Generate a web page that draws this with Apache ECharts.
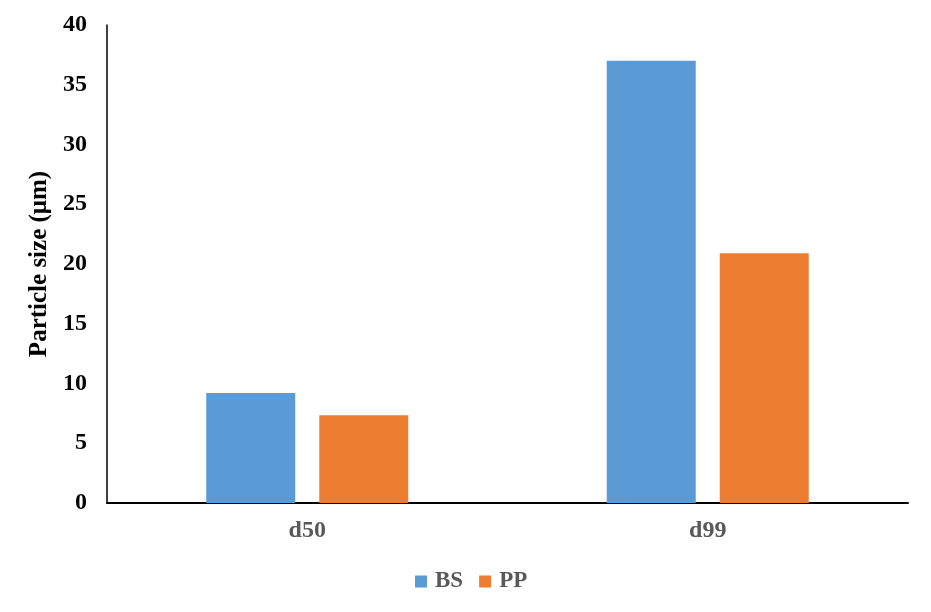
<!DOCTYPE html>
<html>
<head>
<meta charset="utf-8">
<script src="https://cdn.jsdelivr.net/npm/echarts@6/dist/echarts.min.js"></script>
<style>html,body{margin:0;padding:0;background:#fff;}#c{width:931px;height:612px;}</style>
</head>
<body>
<div id="c"></div>
<script>
var categories = ['d50', 'd99'];
var bsValues = [9.2, 37.0];
var ppValues = [7.35, 20.9];
var seriesNames = ['BS', 'PP'];
var yTicks = {min: 0, max: 40, interval: 5};

var chart = echarts.init(document.getElementById('c'), null, {renderer: 'canvas'});
var font = '"Liberation Serif", "Times New Roman", serif';
chart.setOption({
  backgroundColor: '#fff',
  animation: false,
  grid: {left: 107, right: 23, top: 25, bottom: 109, containLabel: false},
  legend: {
    data: seriesNames,
    top: 565,
    left: 410,
    itemWidth: 12,
    itemHeight: 12,
    itemGap: 16,
    icon: 'rect',
    textStyle: {fontFamily: font, fontWeight: 'bold', fontSize: 23, color: '#595959', padding: [0, 0, 0, 3]}
  },
  xAxis: {
    type: 'category',
    data: categories,
    axisLine: {lineStyle: {color: '#000', width: 2}},
    axisTick: {show: false},
    axisLabel: {fontFamily: font, fontWeight: 'bold', fontSize: 24, color: '#595959', margin: 16}
  },
  yAxis: {
    type: 'value',
    min: yTicks.min, max: yTicks.max, interval: yTicks.interval,
    name: 'Particle size (μm)',
    nameLocation: 'middle',
    nameGap: 52,
    nameTextStyle: {fontFamily: font, fontWeight: 'bold', fontSize: 25, color: '#000'},
    axisLine: {show: true, lineStyle: {color: '#000', width: 1.5}},
    axisTick: {show: false},
    splitLine: {show: false},
    axisLabel: {fontFamily: font, fontWeight: 'bold', fontSize: 24, color: '#000', margin: 20}
  },
  series: [
    {name: seriesNames[0], type: 'bar', data: bsValues, barWidth: 89, barGap: '27%', itemStyle: {color: '#5B9BD5'}},
    {name: seriesNames[1], type: 'bar', data: ppValues, barWidth: 89, itemStyle: {color: '#ED7D31'}}
  ]
});
</script>
</body>
</html>
